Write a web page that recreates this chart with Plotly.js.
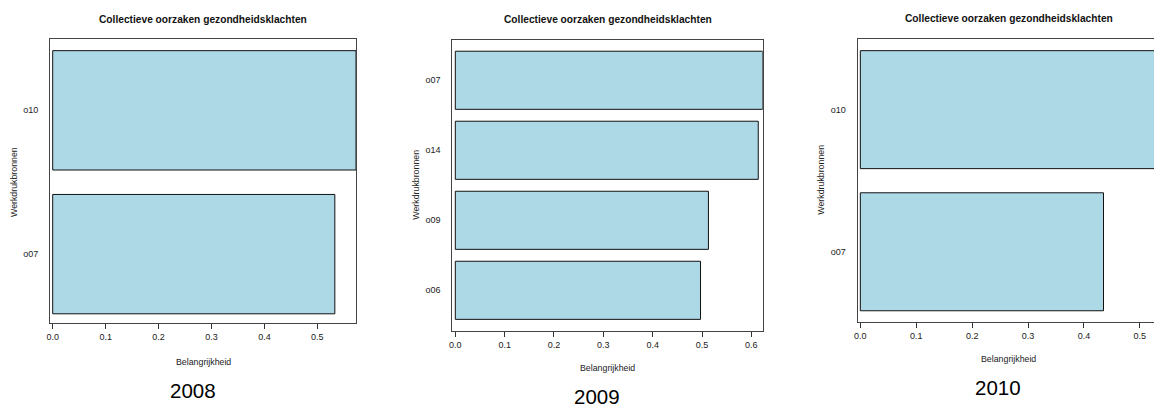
<!DOCTYPE html>
<html>
<head>
<meta charset="utf-8">
<script src="https://cdn.plot.ly/plotly-3.0.1.min.js"></script>
<style>
  html, body { margin: 0; padding: 0; background: #fff; overflow: hidden; }
  #chart { width: 1170px; height: 407px; }
</style>
</head>
<body>
<div id="chart"></div>
<script>
// ---- data ----
const years = ['2008', '2009', '2010'];
const cats2008 = ['o07', 'o10'];
const vals2008 = [0.533, 0.573];
const cats2009 = ['o06', 'o09', 'o14', 'o07'];
const vals2009 = [0.497, 0.513, 0.614, 0.623];
const cats2010 = ['o07', 'o10'];
const vals2010 = [0.435, 0.545];
const titleText = 'Collectieve oorzaken gezondheidsklachten';
const xLabel = 'Belangrijkheid';
const yLabel = 'Werkdrukbronnen';

// ---- geometry (pixels) ----
const W = 1170, H = 407;
const fx = x => x / W;
const fy = y => 1 - y / H;

const panels = [
  { cats: cats2008, vals: vals2008, year: years[0],
    box: [50, 356, 39.3, 323.3], xr: [-0.0051, 0.573], yr: [-0.481, 1.494],
    title: [203, 19.5], xlab: [203, 361.7], ylab: [13.3, 181.7], yearPos: [192.5, 390.5] },
  { cats: cats2009, vals: vals2009, year: years[1],
    box: [452.3, 762.7, 40.3, 330.7], xr: [-0.0061, 0.623], yr: [-0.577, 3.571],
    title: [607.5, 19.5], xlab: [607.3, 368.3], ylab: [415.7, 185], yearPos: [596.7, 396.7] },
  { cats: cats2010, vals: vals2010, year: years[2],
    box: [857.7, 1165, 39.3, 321.7], xr: [-0.0047, 0.545], yr: [-0.492, 1.495],
    title: [1008.7, 18.5], xlab: [1008.7, 359], ylab: [820.7, 180], yearPos: [998.3, 387.5] }
];

const FONT = 'Liberation Sans, Arial, Helvetica, sans-serif';
const data = [];
const layout = {
  width: W, height: H,
  margin: { l: 0, r: 0, t: 0, b: 0 },
  paper_bgcolor: '#fff', plot_bgcolor: '#fff',
  showlegend: false,
  bargap: 0.17,
  font: { family: FONT, color: '#222', size: 9 },
  annotations: []
};

panels.forEach((p, i) => {
  const n = i === 0 ? '' : String(i + 1);
  data.push({
    type: 'bar', orientation: 'h',
    x: p.vals, y: p.cats,
    xaxis: 'x' + n, yaxis: 'y' + n,
    marker: { color: '#ADD8E6', line: { color: '#111', width: 1 } },
    hoverinfo: 'x+y'
  });
  const [x0, x1, y0, y1] = p.box;
  layout['xaxis' + n] = {
    domain: [fx(x0), fx(x1)], anchor: 'y' + n,
    range: p.xr, tick0: 0, dtick: 0.1, tickformat: '.1f',
    showline: true, mirror: true, linecolor: '#444', linewidth: 1,
    ticks: 'outside', ticklen: 5, tickcolor: '#333', tickwidth: 1,
    showgrid: false, zeroline: false, fixedrange: true,
    tickfont: { family: FONT, size: 9, color: '#222' }
  };
  layout['yaxis' + n] = {
    domain: [fy(y1), fy(y0)], anchor: 'x' + n,
    type: 'category', categoryorder: 'array', categoryarray: p.cats,
    range: p.yr,
    showline: true, mirror: true, linecolor: '#444', linewidth: 1,
    ticks: '', ticklabelstandoff: 9,
    showgrid: false, zeroline: false, fixedrange: true,
    tickfont: { family: FONT, size: 9, color: '#222' }
  };
  layout.annotations.push(
    { text: '<b>' + titleText + '</b>', x: fx(p.title[0]), y: fy(p.title[1]),
      xref: 'paper', yref: 'paper', xanchor: 'center', yanchor: 'middle',
      showarrow: false, font: { family: FONT, size: 10.2, color: '#111' } },
    { text: xLabel, x: fx(p.xlab[0]), y: fy(p.xlab[1]),
      xref: 'paper', yref: 'paper', xanchor: 'center', yanchor: 'middle',
      showarrow: false, font: { family: FONT, size: 8.8, color: '#222' } },
    { text: yLabel, x: fx(p.ylab[0]), y: fy(p.ylab[1]), textangle: -90,
      xref: 'paper', yref: 'paper', xanchor: 'center', yanchor: 'middle',
      showarrow: false, font: { family: FONT, size: 8.8, color: '#222' } },
    { text: p.year, x: fx(p.yearPos[0]), y: fy(p.yearPos[1]),
      xref: 'paper', yref: 'paper', xanchor: 'center', yanchor: 'middle',
      showarrow: false, font: { family: FONT, size: 20.5, color: '#000' } }
  );
});

Plotly.newPlot('chart', data, layout, { displayModeBar: false, staticPlot: true });
</script>
</body>
</html>
